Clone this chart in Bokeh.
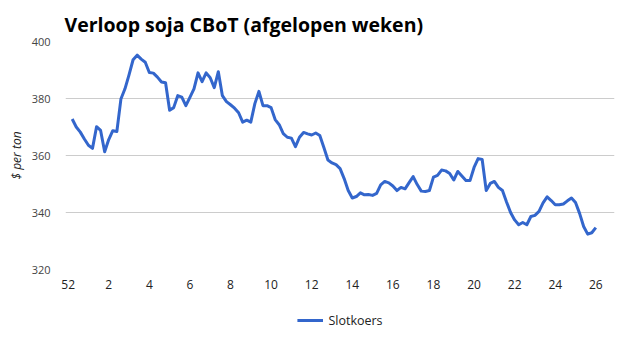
from bokeh.plotting import figure
from bokeh.layouts import column
from bokeh.models import Range1d, FixedTicker, Legend, LegendItem
from bokeh.embed import file_html
from bokeh.resources import INLINE

title_text = "Verloop soja CBoT (afgelopen weken)"
y_title = "$ per ton"
series_name = "Slotkoers"
week_labels = ["52", "2", "4", "6", "8", "10", "12", "14", "16", "18", "20", "22", "24", "26"]
y_ticks = [320, 340, 360, 380, 400]

slotkoers = [
    372.8, 370.0, 368.2, 365.8, 363.6, 362.5, 370.1, 368.8, 361.3, 365.6,
    368.7, 368.4, 379.8, 383.4, 388.3, 393.6, 395.2, 393.8, 392.7, 389.1,
    388.9, 387.5, 385.8, 385.5, 375.9, 376.8, 381.0, 380.5, 377.5, 380.4,
    383.4, 389.0, 385.9, 389.0, 387.3, 383.8, 389.4, 381.0, 378.9, 377.8,
    376.6, 375.0, 371.7, 372.4, 371.7, 378.2, 382.5, 377.5, 377.5, 376.8,
    372.6, 370.8, 367.7, 366.4, 366.1, 363.1, 366.4, 368.1, 367.6, 367.2,
    367.9, 367.0, 362.8, 358.4, 357.4, 356.8, 355.4, 351.9, 347.7, 345.1,
    345.6, 346.9, 346.2, 346.3, 346.0, 346.7, 349.7, 350.9, 350.4, 349.3,
    347.7, 348.8, 348.3, 350.5, 352.6, 349.8, 347.5, 347.4, 347.7, 352.4,
    353.0, 354.9, 354.6, 353.7, 351.4, 354.4, 352.8, 351.2, 351.2, 355.8,
    358.9, 358.6, 347.7, 350.2, 350.9, 348.8, 347.7, 343.7, 340.0, 337.4,
    335.7, 336.5, 335.7, 338.6, 339.0, 340.4, 343.4, 345.5, 344.2, 342.7,
    342.7, 343.0, 344.1, 345.1, 343.5, 339.7, 335.1, 332.4, 332.9, 334.7,
]

days = list(range(len(slotkoers)))
# week label ticks: one trading day before the first point, then every 10 trading days
tick_pos = [-1 + 10 * k for k in range(len(week_labels))]

FONT = "Open Sans"
BLUE = "#3366CC"

p = figure(width=625, height=300, frame_width=549, frame_height=228,
           output_backend="svg", toolbar_location=None,
           x_range=Range1d(-1.65, 133.6), y_range=Range1d(320, 400))
p.min_border_left = 65
p.min_border_right = 11
p.min_border_top = 41
p.min_border_bottom = 31
p.outline_line_color = None
p.background_fill_color = "white"

p.title.text = title_text
p.title.text_font = FONT
p.title.text_font_style = "bold"
p.title.text_font_size = "19.5px"
p.title.text_color = "#000000"
p.title.offset = -1
p.title.standoff = 8

r = p.line(days, slotkoers, line_color=BLUE, line_width=3, line_join="round")

p.xaxis.ticker = FixedTicker(ticks=tick_pos)
p.xaxis.major_label_overrides = {t: l for t, l in zip(tick_pos, week_labels)}
p.xaxis.axis_line_color = None
p.xaxis.major_tick_line_color = None
p.xaxis.minor_tick_line_color = None
p.xaxis.major_label_text_font = FONT
p.xaxis.major_label_text_font_size = "12px"
p.xaxis.major_label_text_color = "#222222"
p.xaxis.major_label_standoff = 4

p.yaxis.ticker = FixedTicker(ticks=y_ticks)
p.yaxis.axis_line_color = None
p.yaxis.major_tick_line_color = None
p.yaxis.minor_tick_line_color = None
p.yaxis.major_label_text_font = FONT
p.yaxis.major_label_text_font_size = "11px"
p.yaxis.major_label_text_color = "#444444"
p.yaxis.major_label_standoff = 9
p.yaxis.axis_label = y_title
p.yaxis.axis_label_text_font = FONT
p.yaxis.axis_label_text_font_style = "italic"
p.yaxis.axis_label_text_font_size = "12px"
p.yaxis.axis_label_text_color = "#222222"
p.yaxis.axis_label_standoff = 4

p.xgrid.grid_line_color = None
p.ygrid.grid_line_color = "#cccccc"
p.ygrid.grid_line_width = 1

# legend strip below the chart (same series, kept out of its view so only the key shows)
lf = figure(width=625, height=40, frame_width=549, frame_height=40,
            output_backend="svg", toolbar_location=None,
            x_axis_location=None, y_axis_location=None,
            x_range=Range1d(-1.65, 133.6), y_range=Range1d(0, 1))
lf.min_border_left = 65
lf.min_border_right = 11
lf.min_border_top = 0
lf.min_border_bottom = 0
lf.outline_line_color = None
lf.xgrid.grid_line_color = None
lf.ygrid.grid_line_color = None
lr = lf.line(days, slotkoers, line_color=BLUE, line_width=3)

legend = Legend(items=[LegendItem(label=series_name, renderers=[lr])],
                orientation="horizontal", location="center",
                label_text_font=FONT, label_text_font_size="12.5px",
                label_text_color="#222222", border_line_color=None,
                background_fill_alpha=0, glyph_width=26, label_standoff=6,
                margin=0, padding=2)
lf.add_layout(legend, "center")

layout = column(p, lf, spacing=0)

open("out.html", "w").write(file_html(layout, INLINE))
